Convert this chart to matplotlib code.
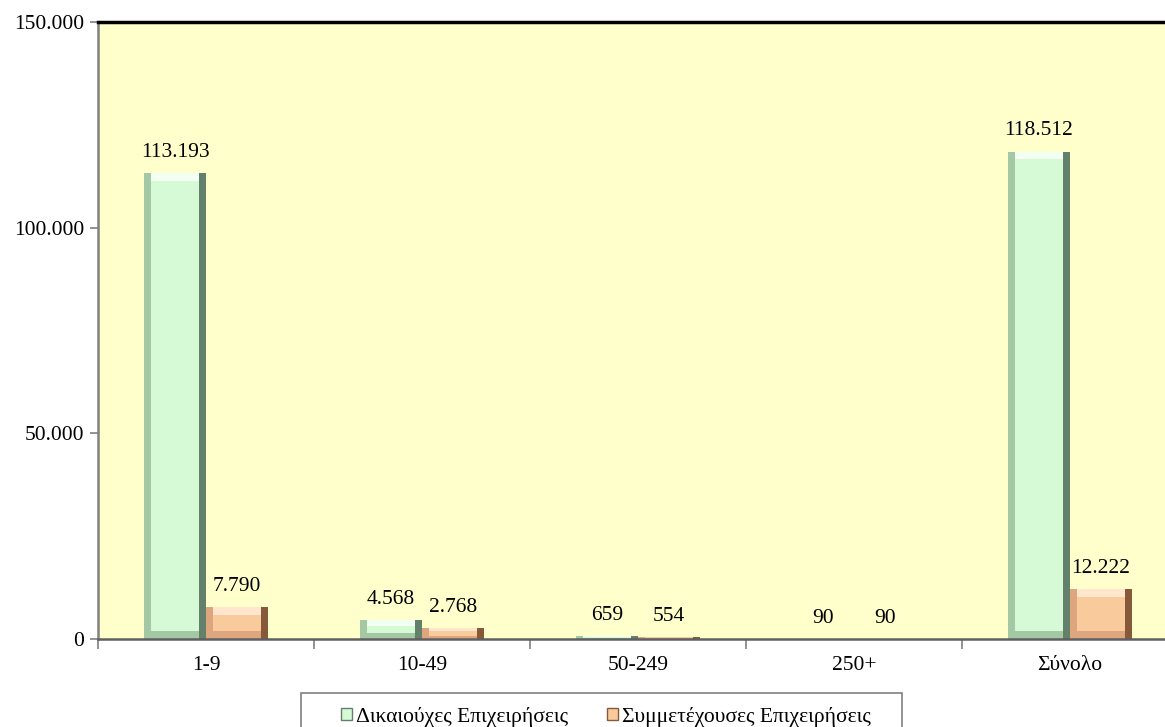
#!/usr/bin/env python3
# plot.py: beneficiary vs participating enterprises by size class (bar chart)

import numpy as np
import matplotlib
matplotlib.use("Agg")
import matplotlib.pyplot as plt
from matplotlib.patches import Rectangle
from matplotlib.ticker import FuncFormatter

plt.rcParams['font.family'] = ['Liberation Serif', 'DejaVu Serif']

# Data
categories = ['1-9', '10-49', '50-249', '250+', 'Σύνολο']
beneficiaries = [113193, 4568, 659, 90, 118512]
participating = [7790, 2768, 554, 90, 12222]
series_names = ['Δικαιούχες Επιχειρήσεις', 'Συμμετέχουσες Επιχειρήσεις']
y_ticks = [0, 50000, 100000, 150000]

FS = 15.5


def dot_thousands(v, pos=None):
    return f"{int(v):,}".replace(',', '.')


fig = plt.figure(figsize=(11.65, 7.27), dpi=100)
ax = fig.add_axes([98 / 1165, 1 - 639 / 727, 1080 / 1165, 617 / 727])
ax.set_facecolor('#FFFFCC')

x = np.arange(len(categories))
w = 0.287
# (face, frame, dark right side, light top)
styles = [('#D5FAD5', '#A3C8A3', '#62806A', '#F2FFF2'),
          ('#F9CB9C', '#DDA67E', '#85593A', '#FFE6CC')]

green_bars = ax.bar(x - w / 2, beneficiaries, w, color=styles[0][1],
                    linewidth=0, label=series_names[0], zorder=3)
orange_bars = ax.bar(x + w / 2, participating, w, color=styles[1][1],
                     linewidth=0, label=series_names[1], zorder=3)

# bevel effect drawn from each bar's own geometry
for bars, (face, frame, dark, light) in zip([green_bars, orange_bars], styles):
    for b in bars:
        h = b.get_height()
        bw = b.get_width()
        x0 = b.get_x()
        bx = bw * 0.12
        by = min(1900, h * 0.3)
        ax.bar(x0 + bw - bx / 2, h, bx, color=dark, linewidth=0, zorder=3.5)
        ax.bar(x0 + bw / 2, by, bw - 2 * bx, bottom=h - by, color=light,
               linewidth=0, zorder=3.6)
        ax.bar(x0 + bw / 2, max(h - 2 * by, 0), bw - 2 * bx, bottom=by,
               color=face, linewidth=0, zorder=3.7)

for bars, vals in [(green_bars, beneficiaries), (orange_bars, participating)]:
    for b, v in zip(bars, vals):
        ax.annotate(dot_thousands(v), (b.get_x() + b.get_width() / 2, v),
                    xytext=(0, 8), textcoords='offset points',
                    ha='center', va='bottom', fontsize=FS, zorder=5)

ax.set_xlim(-0.5, 4.5)
ax.set_ylim(0, 150000)
ax.set_yticks(y_ticks)
ax.yaxis.set_major_formatter(FuncFormatter(dot_thousands))
ax.set_xticks(x)
ax.set_xticklabels(categories)
ax.set_xticks(np.arange(-0.5, 4.5, 1.0), minor=True)
ax.tick_params(axis='x', which='major', length=0, pad=12, labelsize=FS)
ax.tick_params(axis='x', which='minor', length=7, color='#808080', width=1.2)
ax.tick_params(axis='y', length=6, color='#808080', width=1.2, labelsize=FS, pad=4)

ax.spines['top'].set_color('black')
ax.spines['top'].set_linewidth(2.5)
ax.spines['left'].set_color('#808080')
ax.spines['left'].set_linewidth(1.8)
ax.spines['bottom'].set_color('#606060')
ax.spines['bottom'].set_linewidth(1.8)
ax.spines['right'].set_visible(False)
for s in ax.spines.values():
    s.set_zorder(6)

# legend frame runs off the bottom edge of the figure
fig.patches.append(Rectangle((301 / 1165, -0.05), 601 / 1165, 1 - 693 / 727 + 0.05,
                             transform=fig.transFigure, fill=False,
                             edgecolor='#808080', linewidth=1.2))
handles = [plt.Rectangle((0, 0), 1, 1, facecolor=st[0], edgecolor=st[2], linewidth=1)
           for st in styles]
leg = fig.legend(handles=handles, labels=series_names,
                 loc='center', bbox_to_anchor=(606 / 1165, 1 - 717 / 727),
                 ncol=2, fontsize=FS, frameon=False,
                 handlelength=0.5, handleheight=0.5, handletextpad=0.2,
                 columnspacing=1.8, borderpad=0, borderaxespad=0)

fig.savefig('out.png', dpi=100)
